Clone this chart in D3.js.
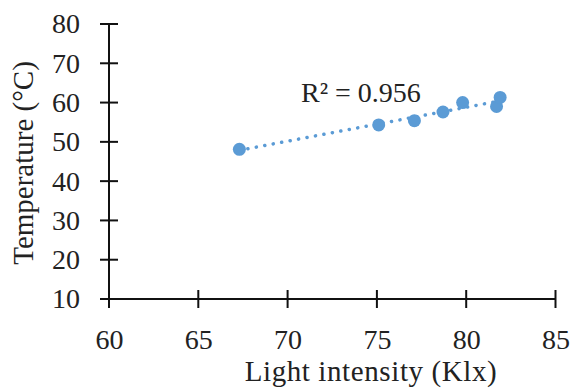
<!DOCTYPE html>
<html>
<head>
<meta charset="utf-8">
<script src="https://cdn.jsdelivr.net/npm/d3@7"></script>
<style>
  body { margin: 0; background: #fff; }
  svg text { font-family: "Liberation Serif", "Times New Roman", serif; fill: #222; }
</style>
</head>
<body>
<div id="chart"></div>
<script>
// data
const lightIntensity = [67.3, 75.1, 77.1, 78.7, 79.8, 81.7, 81.9];
const temperature = [48.1, 54.3, 55.4, 57.6, 60.0, 59.0, 61.3];
const xTicks = [60, 65, 70, 75, 80, 85];
const yTicks = [10, 20, 30, 40, 50, 60, 70, 80];
const r2Label = "R² = 0.956";

const width = 579, height = 392;
const margin = {top: 24, right: 24, bottom: 93, left: 109};
const w = width - margin.left - margin.right;
const h = height - margin.top - margin.bottom;

const svg = d3.select("#chart").append("svg")
  .attr("width", width)
  .attr("height", height);

const g = svg.append("g")
  .attr("transform", "translate(" + margin.left + "," + margin.top + ")");

const x = d3.scaleLinear().domain([60, 85]).range([0, w + 0.5]);
const y = d3.scaleLinear().domain([10, 80]).range([h, 0]);

// axes with ticks crossing the line
const xAxis = g.append("g")
  .attr("transform", "translate(0," + h + ")")
  .call(d3.axisBottom(x).tickValues(xTicks).tickSize(0).tickPadding(30).tickFormat(d3.format("d")));
xAxis.select(".domain").remove();
xAxis.selectAll("text").style("font-size", "28px");

const yAxis = g.append("g")
  .call(d3.axisLeft(y).tickValues(yTicks).tickSize(0).tickPadding(29).tickFormat(d3.format("d")));
yAxis.select(".domain").remove();
yAxis.selectAll("text").style("font-size", "28px");

g.append("line")
  .attr("x1", -9).attr("x2", x(85))
  .attr("y1", h).attr("y2", h)
  .attr("stroke", "#111").attr("stroke-width", 2);
g.append("line")
  .attr("x1", 0).attr("x2", 0)
  .attr("y1", y(80)).attr("y2", h + 9)
  .attr("stroke", "#111").attr("stroke-width", 2);

g.selectAll(".xt").data(xTicks).enter().append("line")
  .attr("x1", d => x(d)).attr("x2", d => x(d))
  .attr("y1", h - 9).attr("y2", h + 9)
  .attr("stroke", "#111").attr("stroke-width", 2);
g.selectAll(".yt").data(yTicks).enter().append("line")
  .attr("x1", -9).attr("x2", 9)
  .attr("y1", d => y(d)).attr("y2", d => y(d))
  .attr("stroke", "#111").attr("stroke-width", 2);

// least squares trend line
const n = lightIntensity.length;
const mx = d3.mean(lightIntensity), my = d3.mean(temperature);
let sxy = 0, sxx = 0;
for (let i = 0; i < n; i++) {
  sxy += (lightIntensity[i] - mx) * (temperature[i] - my);
  sxx += (lightIntensity[i] - mx) ** 2;
}
const slope = sxy / sxx, icpt = my - slope * mx;
const x0 = d3.min(lightIntensity), x1 = d3.max(lightIntensity);

g.append("line")
  .attr("x1", x(x0)).attr("y1", y(icpt + slope * x0))
  .attr("x2", x(x1)).attr("y2", y(icpt + slope * x1))
  .attr("stroke", "#5b9bd5")
  .attr("stroke-width", 3.5)
  .attr("stroke-linecap", "round")
  .attr("stroke-dasharray", "0.1 8.5");

g.selectAll(".pt")
  .data(lightIntensity)
  .enter()
  .append("circle")
  .attr("cx", d => x(d))
  .attr("cy", (d, i) => y(temperature[i]))
  .attr("r", 6.5)
  .attr("fill", "#5b9bd5");

g.append("text")
  .attr("x", 301 - margin.left)
  .attr("y", 101.5 - margin.top)
  .style("font-size", "28px")
  .text(r2Label);

// axis titles
svg.append("text")
  .attr("x", 371)
  .attr("y", 381)
  .attr("text-anchor", "middle")
  .style("font-size", "29px")
  .style("letter-spacing", "0.6px")
  .text("Light intensity (Klx)");

svg.append("text")
  .attr("transform", "translate(33,163) rotate(-90)")
  .attr("text-anchor", "middle")
  .style("font-size", "29px")
  .text("Temperature (°C)");
</script>
</body>
</html>
